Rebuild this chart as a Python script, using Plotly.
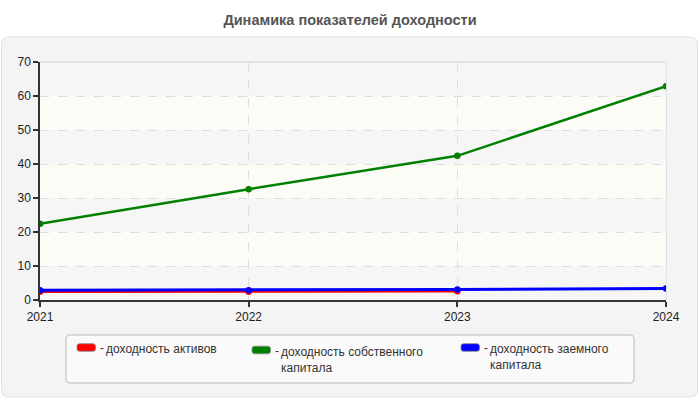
import plotly.graph_objects as go

# ---- data ----
years = [2021, 2022, 2023, 2024]
year_labels = ["2021", "2022", "2023", "2024"]
series_names = [["доходность активов"],
                ["доходность собственного", "капитала"],
                ["доходность заемного", "капитала"]]
roa = [2.4, 2.4, 2.6, None]
roe = [22.4, 32.6, 42.4, 62.9]
rod = [2.9, 2.9, 3.1, 3.4]
colors = ["#ff0000", "#008000", "#0000ff"]
y_ticks = [0, 10, 20, 30, 40, 50, 60, 70]

# ---- geometry (pixels) ----
W, H = 700, 400
L, R, T, B = 40, 34, 62, 100
PW, PH = W - L - R, H - T - B

def px(x):
    return (x - L) / PW

def py(y):
    return (T + PH - y) / PH

def rrect(x0, y0, x1, y1, r):
    def P(x, y):
        return f"{px(x):.5f},{py(y):.5f}"
    return (f"M {P(x0 + r, y0)} L {P(x1 - r, y0)} Q {P(x1, y0)} {P(x1, y0 + r)} "
            f"L {P(x1, y1 - r)} Q {P(x1, y1)} {P(x1 - r, y1)} "
            f"L {P(x0 + r, y1)} Q {P(x0, y1)} {P(x0, y1 - r)} "
            f"L {P(x0, y0 + r)} Q {P(x0, y0)} {P(x0 + r, y0)} Z")

fig = go.Figure()

widths = [2.5, 2.5, 3]
for name, vals, col, lw in zip(series_names, [roa, roe, rod], colors, widths):
    fig.add_trace(go.Scatter(
        x=years, y=vals, mode="lines+markers", name=" ".join(name),
        line=dict(color=col, width=lw),
        marker=dict(color=col, size=6.5),
        showlegend=False, connectgaps=False,
    ))

shapes = []
# outer panel
shapes.append(dict(type="path", xref="paper", yref="paper", path=rrect(1.5, 37, 697.5, 397, 7),
                   fillcolor="#f4f4f4", line=dict(color="#e2e2e2", width=1), layer="below"))
# plot area bands
for i in range(len(y_ticks) - 1):
    fill = "#f6f6f6" if i % 2 == 0 else "#fcfcf7"
    shapes.append(dict(type="rect", xref="x", yref="y", x0=years[0], x1=years[-1],
                       y0=y_ticks[i], y1=y_ticks[i + 1], fillcolor=fill,
                       line=dict(width=0), layer="below"))
# top and right borders
shapes.append(dict(type="line", xref="paper", yref="paper", x0=0, x1=1, y0=1, y1=1,
                   line=dict(color="#dddddd", width=1.5)))
shapes.append(dict(type="line", xref="paper", yref="paper", x0=1, x1=1, y0=0, y1=1,
                   line=dict(color="#dddddd", width=1.5), layer="below"))
# legend box
shapes.append(dict(type="path", xref="paper", yref="paper", path=rrect(66, 335, 634, 383, 4),
                   fillcolor="#fafafa", line=dict(color="#b8b8b8", width=1)))

annotations = []
leg_x = [77, 252, 461]
leg_y = [347.5, 350, 347.5]
for lx, ly, col, lines in zip(leg_x, leg_y, colors, series_names):
    shapes.append(dict(type="path", xref="paper", yref="paper",
                       path=rrect(lx, ly - 3.8, lx + 18.5, ly + 3.8, 2.5),
                       fillcolor=col, line=dict(color="#888888", width=0.8)))
    annotations.append(dict(xref="paper", yref="paper", x=px(lx + 21), y=py(ly + 0.5),
                            xanchor="left", yanchor="middle", showarrow=False,
                            text="-", font=dict(size=12, color="#333333")))
    annotations.append(dict(xref="paper", yref="paper", x=px(lx + 28), y=py(ly - 6.3),
                            xanchor="left", yanchor="top", align="left", showarrow=False,
                            borderpad=0,
                            text="<br>".join(lines), font=dict(size=12, color="#333333")))

fig.update_layout(
    width=W, height=H,
    margin=dict(l=L, r=R, t=T, b=B, pad=0),
    paper_bgcolor="white",
    plot_bgcolor="rgba(0,0,0,0)",
    font=dict(family="Liberation Sans, Arial, sans-serif", size=12, color="#222222"),
    title=dict(text="<b>Динамика показателей доходности</b>", x=0.5, xanchor="center",
               y=1 - 20 / H, yanchor="middle",
               font=dict(size=14.5, color="#555555", family="Liberation Sans, Arial, sans-serif")),
    shapes=shapes,
    annotations=annotations,
    xaxis=dict(range=[years[0], years[-1]], tickvals=years, ticktext=year_labels,
               showgrid=True, gridcolor="#dddddd", griddash="dash", gridwidth=1,
               showline=True, linecolor="#333333", linewidth=1.5,
               ticks="outside", ticklen=5, tickcolor="#333333", tickwidth=1.5,
               zeroline=False, tickfont=dict(size=12, color="#222222")),
    yaxis=dict(range=[0, 70], tickvals=y_ticks, showgrid=True, gridcolor="#dddddd",
               griddash="dash", gridwidth=1,
               showline=True, linecolor="#333333", linewidth=1.5,
               ticks="outside", ticklen=5, tickcolor="#333333", tickwidth=1.5,
               zeroline=False, tickfont=dict(size=12, color="#222222")),
)

fig.write_html("out.html", config={"displayModeBar": False},
               post_script="document.body.style.margin='0';")
